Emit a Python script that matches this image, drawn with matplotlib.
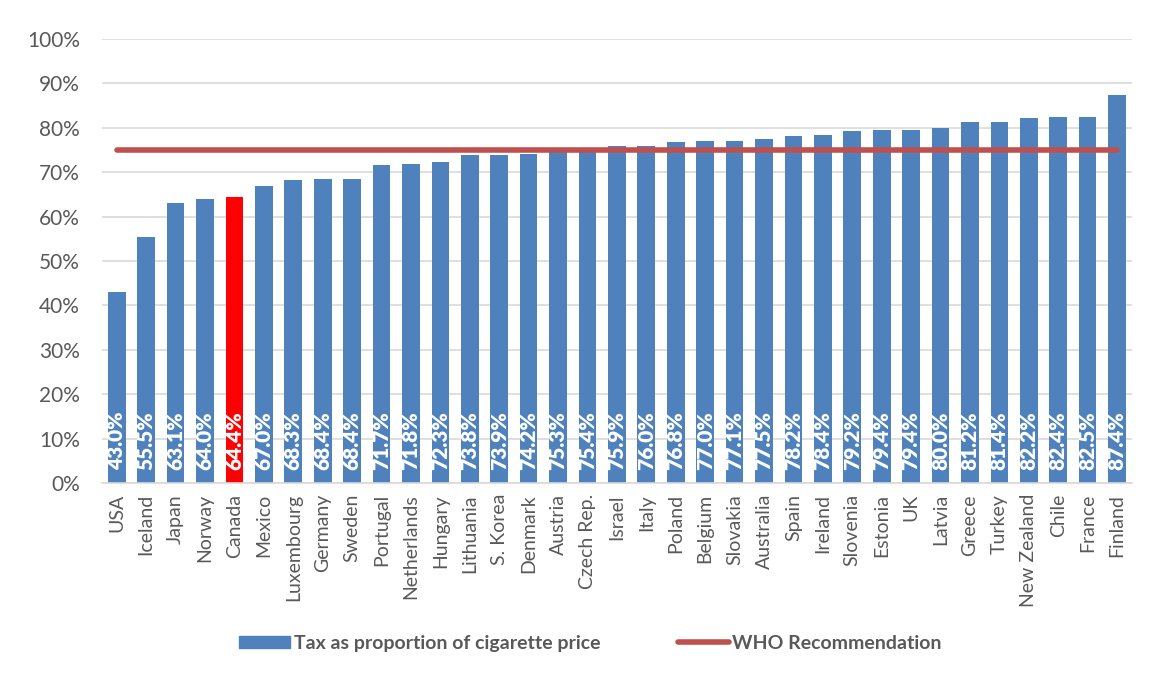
import matplotlib
matplotlib.use("Agg")
import matplotlib.pyplot as plt
from matplotlib.patches import Patch
from matplotlib.lines import Line2D
from matplotlib.ticker import PercentFormatter

plt.rcParams['font.family'] = ['Lato', 'DejaVu Sans']

# Tax as share of cigarette price, by country
countries = ["USA", "Iceland", "Japan", "Norway", "Canada", "Mexico", "Luxembourg",
             "Germany", "Sweden", "Portugal", "Netherlands", "Hungary", "Lithuania",
             "S. Korea", "Denmark", "Austria", "Czech Rep.", "Israel", "Italy", "Poland",
             "Belgium", "Slovakia", "Australia", "Spain", "Ireland", "Slovenia", "Estonia",
             "UK", "Latvia", "Greece", "Turkey", "New Zealand", "Chile", "France", "Finland"]
tax_share = [43.0, 55.5, 63.1, 64.0, 64.4, 67.0, 68.3, 68.4, 68.4, 71.7, 71.8, 72.3, 73.8,
             73.9, 74.2, 75.3, 75.4, 75.9, 76.0, 76.8, 77.0, 77.1, 77.5, 78.2, 78.4, 79.2,
             79.4, 79.4, 80.0, 81.2, 81.4, 82.2, 82.4, 82.5, 87.4]
who_level = 75.0
highlight = "Canada"

BLUE = "#4F81BD"
RED_LINE = "#C0504D"
GREY_TXT = "#595959"

fig = plt.figure(figsize=(11.49, 6.77), dpi=100)
ax = fig.add_axes([0.0888, 0.2866, 0.8962, 0.6558])

x = list(range(len(countries)))
colors = ["#FF0000" if c == highlight else BLUE for c in countries]
ax.bar(x, tax_share, width=0.6, color=colors, zorder=2)

# bar value labels, rotated, sitting at the bottom of each bar
for xi, v in zip(x, tax_share):
    ax.text(xi, 3.0, f"{v:.1f}%", rotation=90, ha="center", va="bottom",
            color="white", fontsize=15, fontweight="heavy", zorder=3)

ax.plot([x[0], x[-1]], [who_level, who_level], color=RED_LINE, lw=4,
        solid_capstyle="round", zorder=4)

ax.set_xlim(-0.5, len(countries) - 0.5)
ax.set_ylim(0, 100)
ax.set_yticks(range(0, 101, 10))
ax.yaxis.set_major_formatter(PercentFormatter(decimals=0))
ax.set_xticks(x)
ax.set_xticklabels(countries, rotation=90, fontsize=14, color=GREY_TXT)
ax.tick_params(axis="y", labelsize=15, labelcolor=GREY_TXT, length=0, pad=16)
ax.tick_params(axis="x", length=0, pad=8)
ax.grid(axis="y", color="#D9D9D9", lw=1.2, zorder=0)
for s in ["top", "right", "left"]:
    ax.spines[s].set_visible(False)
ax.spines["bottom"].set_color("#D9D9D9")
ax.spines["bottom"].set_linewidth(1.2)

handles = [Patch(color=BLUE), Line2D([0], [0], color=RED_LINE, lw=4, solid_capstyle="round")]
labels = ["Tax as proportion of cigarette price", "WHO Recommendation"]
leg = fig.legend(handles, labels, loc="center", bbox_to_anchor=(0.514, 0.05), ncol=2,
                 frameon=False, handlelength=2.6, handleheight=0.55, columnspacing=4.0,
                 handletextpad=0.2, prop={"size": 14, "weight": "bold"})
for t in leg.get_texts():
    t.set_color(GREY_TXT)

fig.savefig("out.png", dpi=100)
